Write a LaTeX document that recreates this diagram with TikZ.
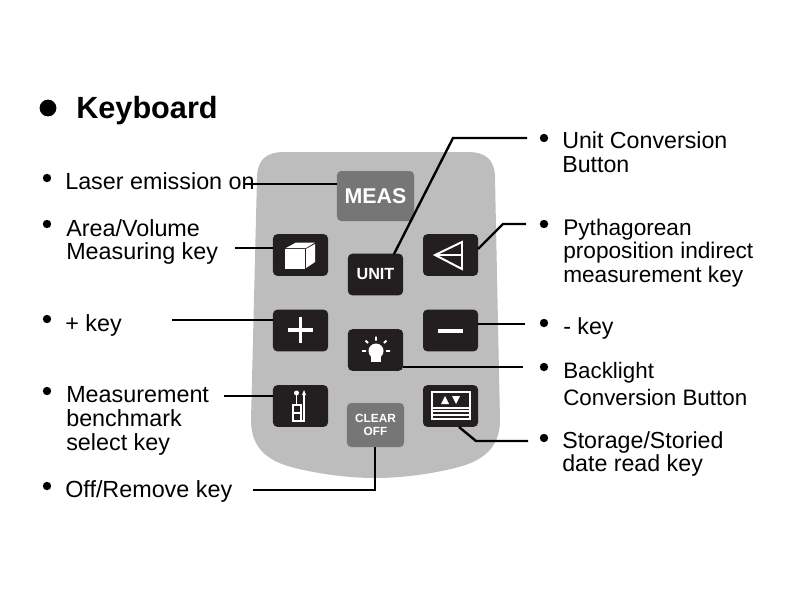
\documentclass[tikz,border=0pt]{standalone}
\usepackage{fontspec}
\setmainfont{Liberation Sans}
\usepackage{tikz}
\usetikzlibrary{positioning}
\definecolor{bodygray}{HTML}{BDBDBD}
\definecolor{softgray}{HTML}{767676}
\definecolor{keyblack}{HTML}{231F20}
\tikzset{
    keybox/.style = {fill=keyblack, rounded corners=3pt, minimum width=1.375cm, minimum height=1.04cm, inner sep=0pt, text=white, font=\bfseries\fontsize{11.5}{13}\selectfont},
    softbox/.style = {keybox, fill=softgray},
    leftlabel/.style = {anchor=west, inner sep=0pt, align=left, font=\fontsize{16.6}{17}\selectfont},
    rightlabel/.style = {anchor=west, inner sep=0pt, align=left, font=\fontsize{16.5}{16.8}\selectfont},
    bullet/.style = {circle, fill=black, minimum size=0.21cm, inner sep=0pt},
    leader/.style = {draw=black, line width=1.7pt},
    icon/.style = {draw=white, line width=1.4pt},
}
\begin{document}
\begin{tikzpicture}[x=0.025cm, y=-0.025cm]
    \useasboundingbox (0,0) rectangle (800,600);
    \fill[bodygray] (257,178) .. controls (257,160) and (266,152) .. (284,152)
        -- (468,152) .. controls (486,152) and (495,160) .. (495,178)
        -- (500,420) .. controls (500,450) and (480,462) .. (455,468)
        .. controls (435,473) and (405,478) .. (375,478)
        .. controls (345,478) and (315,473) .. (295,468)
        .. controls (270,462) and (251,450) .. (251,420) -- cycle;

    \node[bullet, minimum size=0.42cm] (titledot) at (48,108) {};
    \node[anchor=west, inner sep=0pt, font=\bfseries\fontsize{21.8}{24}\selectfont] (title) at (76,111) {Keyboard};

    \node[bullet] (dota) at (47,178) {};
    \node[bullet] (dotb) at (47,224) {};
    \node[bullet] (dotc) at (47,319) {};
    \node[bullet] (dotd) at (47,391) {};
    \node[bullet] (dote) at (47,486) {};
    \node[bullet] (dotf) at (544,138) {};
    \node[bullet] (dotg) at (544,224) {};
    \node[bullet] (doth) at (544,323) {};
    \node[bullet] (doti) at (544,367) {};
    \node[bullet] (dotj) at (544,438) {};

    \node[leftlabel] (laser) at (65,181) {Laser emission on};
    \node[leftlabel] (area) at (66,242) {Area/Volume\\Measuring key};
    \node[leftlabel] (plus) at (65,325) {+ key};
    \node[leftlabel] (bench) at (66,421) {Measurement\\benchmark\\select key};
    \node[leftlabel] (off) at (65,491) {Off/Remove key};
    \node[rightlabel] (unit) at (562,152) {Unit Conversion\\Button};
    \node[rightlabel, font=\fontsize{16.1}{16.5}\selectfont] (pyth) at (563,253) {Pythagorean\\proposition indirect\\measurement key};
    \node[rightlabel] (minus) at (563,328) {- key};
    \node[rightlabel, font=\fontsize{15.9}{19}\selectfont] (light) at (563,384) {Backlight\\Conversion Button};
    \node[rightlabel] (store) at (562,454) {Storage/Storied\\date read key};

    \node[softbox, minimum width=1.925cm, minimum height=1.25cm, font=\bfseries\fontsize{15.2}{17}\selectfont] (measkey) at (375.5,196) {MEAS};
    \node[keybox] (cubekey) at (300.5,255) {};
    \node[keybox] (unitkey) at (375.5,274.5) {UNIT};
    \node[keybox] (trikey) at (450.5,255) {};
    \node[keybox] (pluskey) at (300.5,330.5) {};
    \node[keybox] (minuskey) at (450.5,330.5) {};
    \node[keybox] (lightkey) at (375.5,350) {};
    \node[keybox] (benchkey) at (300.5,406) {};
    \node[keybox] (storekey) at (450.5,406) {};
    \node[softbox, minimum width=1.425cm, minimum height=1.1cm, align=center, font=\bfseries\fontsize{8.4}{9}\selectfont] (clearkey) at (375.5,425) {CLEAR\\OFF};

    \coordinate (laserend) at (245,184);
    \coordinate (areaend) at (235,248);
    \coordinate (plusend) at (172,320);
    \coordinate (benchend) at (224,396);
    \coordinate (offend) at (253,490);
    \coordinate (offbend) at (375,490);
    \coordinate (unitend) at (527,138);
    \coordinate (unitbend) at (453,138);
    \coordinate (unitfoot) at (394,254);
    \coordinate (triend) at (526,224);
    \coordinate (tribend) at (503,224);
    \coordinate (trifoot) at (478,249);
    \coordinate (minusend) at (525,324);
    \coordinate (lightend) at (523,367);
    \coordinate (storeend) at (528,441);
    \coordinate (storebend) at (476,441);
    \coordinate (storefoot) at (459,427);

    \draw[leader] (laserend) -- (laserend -| measkey.west);
    \draw[leader] (areaend) -- (areaend -| cubekey.west);
    \draw[leader] (plusend) -- (plusend -| pluskey.west);
    \draw[leader] (benchend) -- (benchend -| benchkey.west);
    \draw[leader] (offend) -- (offbend) -- (offbend |- clearkey.south);
    \draw[leader] (unitend) -- (unitbend) -- (unitfoot);
    \draw[leader] (triend) -- (tribend) -- (trifoot);
    \draw[leader] (minusend) -- (minusend -| minuskey.east);
    \draw[leader] (lightend) -- (lightend -| lightkey.east);
    \draw[leader] (storeend) -- (storebend) -- (storefoot);

    \fill[white] (285,249) rectangle (305,269);
    \fill[white] (286,248) -- (296,242.5) -- (315,242.5) -- (306,248) -- cycle;
    \fill[white] (306,249) -- (315,244) -- (315,262) -- (306,268) -- cycle;

    \draw[icon] (462,242) -- (435,255) -- (462,269) -- cycle (435,255) -- (462,255);

    \draw[icon, line width=2.2pt] (288,330) -- (313,330) (300.5,317) -- (300.5,343);
    \draw[icon, line width=3.2pt] (438,331) -- (463,331);

    \fill[white] (376,351) circle (7.5);
    \fill[white] (371,354) rectangle (381,362);
    \draw[icon] (376,336.5) -- (376,340.5) (365.5,340.5) -- (368,343) (386.5,340.5) -- (384,343) (362,351) -- (366,351) (386,351) -- (390,351);

    \fill[white] (296.5,393) circle (2.5);
    \draw[icon, line width=0.8pt] (296.5,393) -- (296.5,405) (293,405) rectangle (301,421) (293,413) -- (301,413) (304,393) -- (304,421) -- (301,421);
    \fill[white] (304,390) -- (302,395) -- (306,395) -- cycle;

    \draw[icon, line width=0.8pt] (432,392) rectangle (470,419) (432,411) -- (470,411) (432,415) -- (470,415);
    \fill[white] (432,407) rectangle (470,409);
    \fill[white] (445,396) -- (441,404) -- (449,404) -- cycle;
    \fill[white] (456,404) -- (452,396) -- (460,396) -- cycle;
\end{tikzpicture}
\end{document}
